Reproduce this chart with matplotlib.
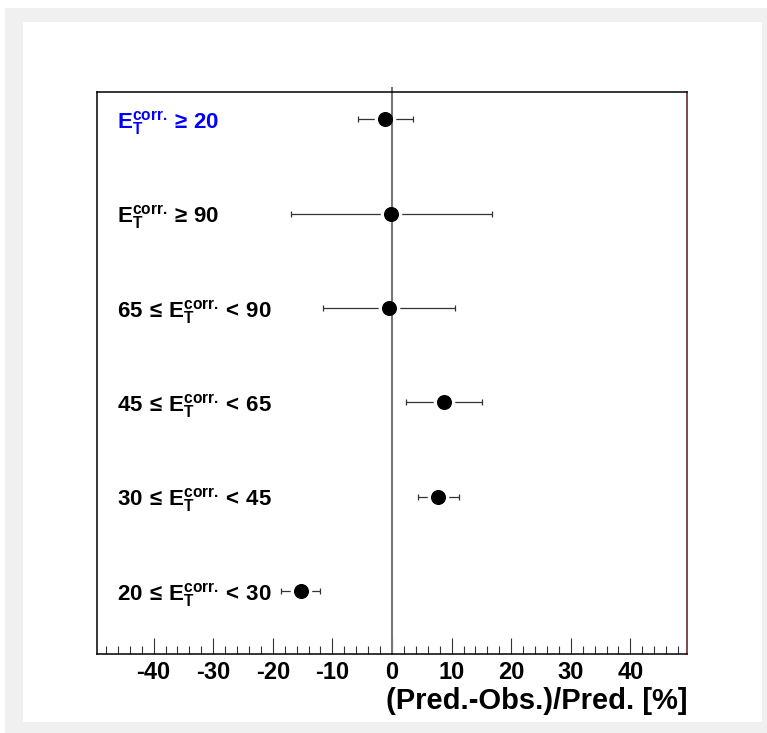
#!/usr/bin/env python3

import matplotlib
matplotlib.use("Agg")
import matplotlib.pyplot as plt
from matplotlib.patches import Rectangle
from matplotlib.ticker import MultipleLocator
import matplotlib.transforms as mtransforms

# ----------------------------
# Data (bottom to top)
# ----------------------------
ET = r"\mathbf{E}_{\mathbf{T}}^{\mathbf{corr.}}"
BIN_LABELS = [
    r"$\mathbf{20}\,\leq\," + ET + r"\mathbf{<}\,\mathbf{30}$",
    r"$\mathbf{30}\,\leq\," + ET + r"\mathbf{<}\,\mathbf{45}$",
    r"$\mathbf{45}\,\leq\," + ET + r"\mathbf{<}\,\mathbf{65}$",
    r"$\mathbf{65}\,\leq\," + ET + r"\mathbf{<}\,\mathbf{90}$",
    r"$" + ET + r"\geq\,\mathbf{90}$",
    r"$" + ET + r"\geq\,\mathbf{20}$",
]
DIFF_PCT = [-15.3, 7.8, 8.7, -0.5, -0.1, -1.1]
ERR_PCT = [3.3, 3.4, 6.4, 11.0, 16.8, 4.6]
LABEL_COLORS = ["black", "black", "black", "black", "black", "#0000ff"]

XTICKS = [-40, -30, -20, -10, 0, 10, 20, 30, 40]
XLABEL = "(Pred.-Obs.)/Pred. [%]"

# ----------------------------
# Style
# ----------------------------
plt.rcParams["font.family"] = ["Liberation Sans", "DejaVu Sans"]
plt.rcParams["font.weight"] = "bold"
plt.rcParams["mathtext.fontset"] = "custom"
plt.rcParams["mathtext.rm"] = "Liberation Sans"
plt.rcParams["mathtext.it"] = "Liberation Sans:bold"
plt.rcParams["mathtext.bf"] = "Liberation Sans:bold"

W, H = 767, 733
fig = plt.figure(figsize=(W / 100, H / 100), dpi=100)
fig.patch.set_facecolor("white")

# ROOT-like canvas frame
fig.patches.append(Rectangle((5 / W, 0), (W - 5) / W, (H - 8) / H,
                             transform=fig.transFigure, facecolor="#f0f0f0",
                             edgecolor="none", zorder=-10))
fig.patches.append(Rectangle((23 / W, 11 / H), (762 - 23) / W, (722 - 22) / H,
                             transform=fig.transFigure, facecolor="white",
                             edgecolor="none", zorder=-9))

ax = fig.add_axes([97 / W, (H - 654) / H, 590 / W, 562 / H])
ax.set_zorder(1)
ax.set_facecolor("white")

ypos = list(range(len(DIFF_PCT)))

# error bars
ax.errorbar(DIFF_PCT, ypos, xerr=ERR_PCT, fmt="none", ecolor="#333333",
            elinewidth=0.9, capsize=2.5, capthick=0.9, zorder=2)
# white halo to leave a gap between marker and error bar
ax.plot(DIFF_PCT, ypos, "o", color="white", markersize=14.5, zorder=2.2)

# zero line, slightly above the frame
trans_x = mtransforms.blended_transform_factory(ax.transData, ax.transAxes)
ax.plot([0, 0], [0, 1.008], color="#777777", lw=1.5, transform=trans_x,
        clip_on=False, zorder=2.5)

ax.plot(DIFF_PCT, ypos, "o", color="black", markersize=9.8, zorder=3)

trans_y = mtransforms.blended_transform_factory(ax.transAxes, ax.transData)
for y, lab, col in zip(ypos, BIN_LABELS, LABEL_COLORS):
    ax.text(0.034, y, lab, transform=trans_y, ha="left",
            va="center_baseline", fontsize=16, color=col)

ax.set_xlim(-49.5, 49.5)
ax.set_ylim(-0.67, 5.29)

ax.set_xticks(XTICKS)
ax.set_xticklabels([str(t) for t in XTICKS], fontsize=17, fontweight="bold")
ax.xaxis.set_minor_locator(MultipleLocator(2))
ax.tick_params(axis="x", which="major", direction="in", length=11.5,
               width=0.8, color="#333333", pad=5)
ax.tick_params(axis="x", which="minor", direction="in", length=5.8,
               width=0.8, color="#333333")
ax.set_yticks([])

for side in ["left", "top", "bottom"]:
    ax.spines[side].set_linewidth(1.1)
    ax.spines[side].set_color("black")
ax.spines["right"].set_linewidth(1.1)
ax.spines["right"].set_color("#5a1a1a")

fig.text(687 / W, 1 - 701 / H, XLABEL, ha="right", va="center",
         fontsize=21, fontweight="bold")

fig.savefig("out.png", dpi=100)
